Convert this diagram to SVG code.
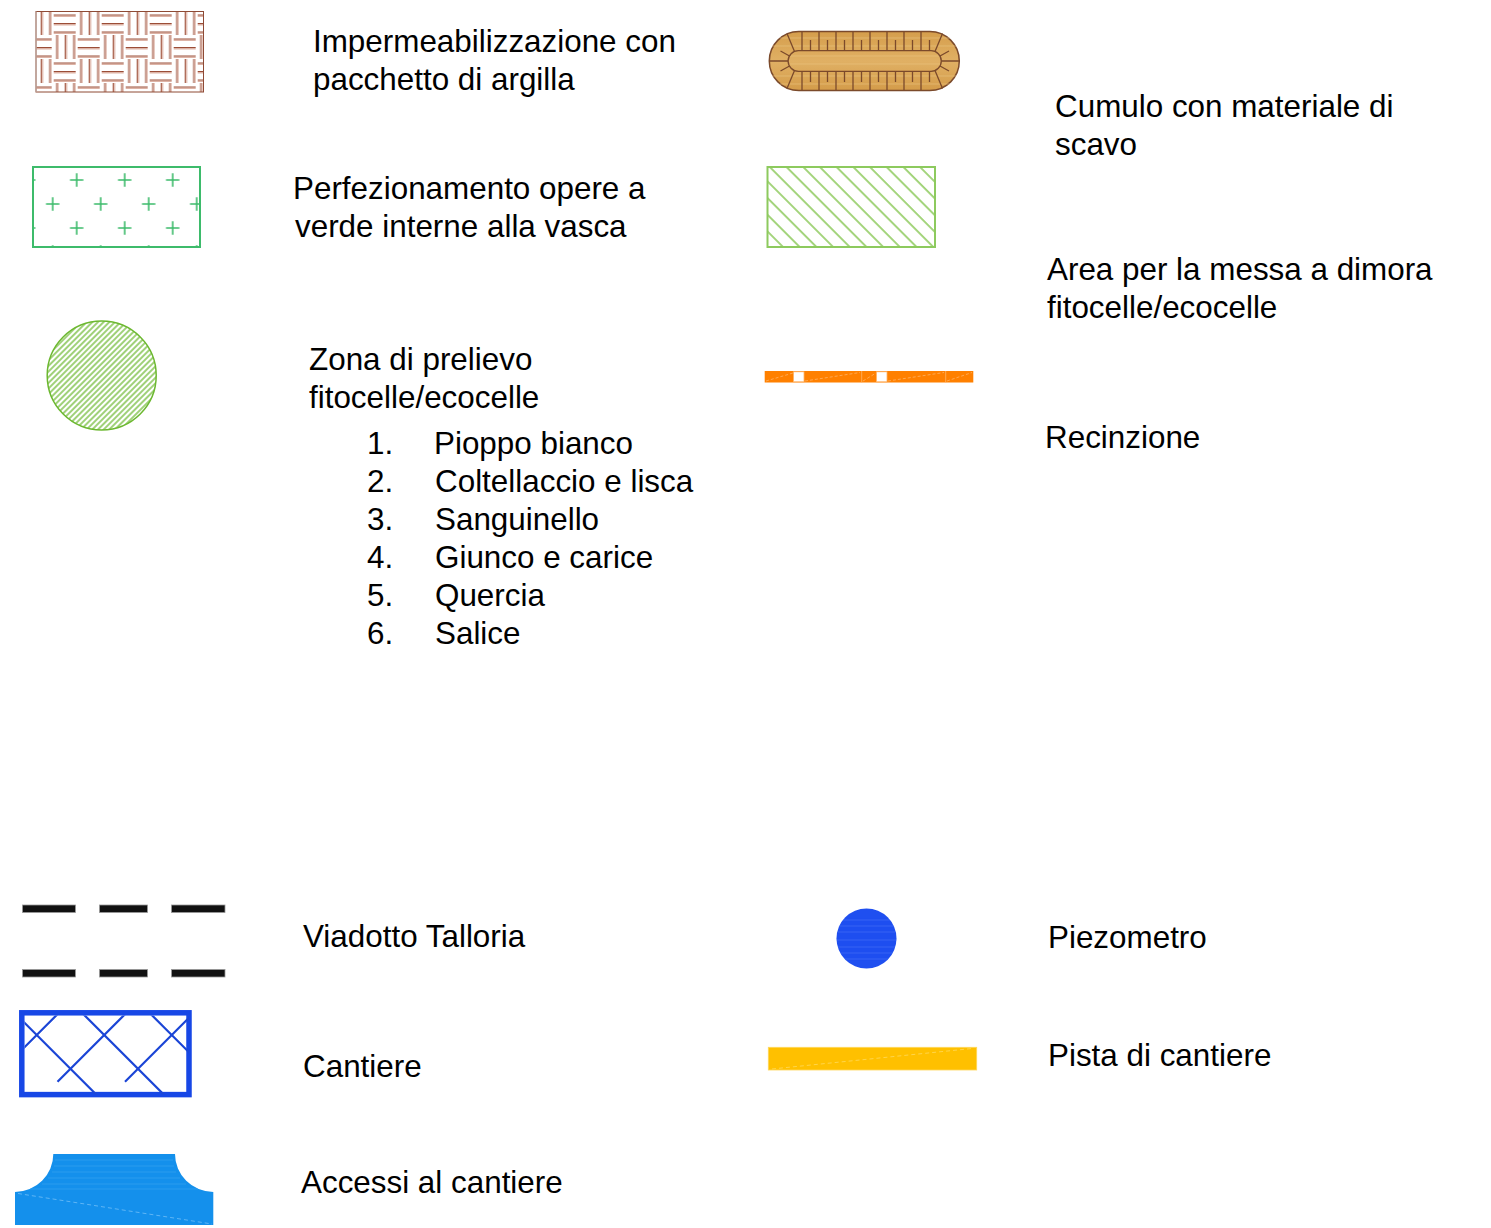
<svg xmlns="http://www.w3.org/2000/svg" width="1491" height="1228" viewBox="0 0 1491 1228">
<style>
text{font-family:"Liberation Sans",Arial,sans-serif;font-size:31.4px;fill:#000}
.cd{stroke:#9b4d37;stroke-width:1;fill:none}
.cl{stroke:#ddb3a6;stroke-width:1.4;fill:none}
.gx{stroke:#3dbb6b;stroke-width:1.6;fill:none}
</style>
<defs>
<pattern id="clay" patternUnits="userSpaceOnUse" x="4.7" y="11" width="48" height="48">
 <g class="cl">
  <path d="M1,5.3H23M1,13.8H23M1,22.3H23"/>
  <path d="M29.3,0V24M37.8,0V24M46.3,0V24"/>
  <path d="M5.3,24V48M13.8,24V48M22.3,24V48"/>
  <path d="M25,29.3H47M25,37.8H47M25,46.3H47"/>
 </g>
 <g class="cd">
  <path d="M1,4H23M1,12.5H23M1,21H23"/>
  <path d="M28,0V24M36.5,0V24M45,0V24"/>
  <path d="M4,24V48M12.5,24V48M21,24V48"/>
  <path d="M25,28H47M25,36.5H47M25,45H47"/>
 </g>
</pattern>
<pattern id="cross" patternUnits="userSpaceOnUse" x="4.7" y="156" width="48" height="48">
 <path class="gx" d="M17.3,24H30.7M24,17.3V30.7M-6.7,0H6.7M0,-6.7V6.7M41.3,0H54.7M48,-6.7V6.7M-6.7,48H6.7M0,41.3V54.7M41.3,48H54.7M48,41.3V54.7"/>
</pattern>
<pattern id="hatchC" patternUnits="userSpaceOnUse" width="4" height="4" patternTransform="rotate(45)">
 <line x1="1" y1="0" x2="1" y2="4" stroke="#6cb830" stroke-width="1.3"/>
</pattern>
<pattern id="hatchR" patternUnits="userSpaceOnUse" width="11.8" height="11.8" patternTransform="translate(767,167) rotate(-45)">
 <line x1="2" y1="0" x2="2" y2="11.8" stroke="#74be38" stroke-width="1.3"/>
</pattern>
<linearGradient id="wood" x1="0" y1="0" x2="0" y2="1">
 <stop offset="0" stop-color="#d59e4c"/>
 <stop offset="0.5" stop-color="#e0b064"/>
 <stop offset="1" stop-color="#d49c4a"/>
</linearGradient>
<clipPath id="cantClip"><rect x="24.5" y="1015.5" width="164.5" height="79"/></clipPath>
<clipPath id="piezClip"><circle cx="866.5" cy="938.5" r="30"/></clipPath>
</defs>

<g id="impermeabilizzazione">
 <rect x="36" y="11.5" width="167.5" height="80.5" fill="url(#clay)" stroke="#8e4a35" stroke-width="1"/>
 <line x1="36" y1="11.5" x2="36" y2="92" stroke="#c0a8a0" stroke-width="1.5"/>
 <text x="313" y="52">Impermeabilizzazione con</text>
 <text x="313" y="90">pacchetto di argilla</text>
</g>

<g id="perfezionamento">
 <rect x="33" y="167" width="167" height="80" fill="url(#cross)" stroke="#3dbb6b" stroke-width="2"/>
 <text x="293" y="199">Perfezionamento opere a</text>
 <text x="295" y="237">verde interne alla vasca</text>
</g>

<g id="zona-prelievo">
 <circle cx="101.7" cy="375.5" r="54.5" fill="url(#hatchC)" stroke="#6cb830" stroke-width="1.5"/>
 <text x="309" y="370">Zona di prelievo</text>
 <text x="309" y="408">fitocelle/ecocelle</text>
 <text x="367" y="454">1.</text><text x="434" y="454">Pioppo bianco</text>
 <text x="367" y="492">2.</text><text x="435" y="492">Coltellaccio e lisca</text>
 <text x="367" y="530">3.</text><text x="435" y="530">Sanguinello</text>
 <text x="367" y="568">4.</text><text x="435" y="568">Giunco e carice</text>
 <text x="367" y="606">5.</text><text x="435" y="606">Quercia</text>
 <text x="367" y="644">6.</text><text x="435" y="644">Salice</text>
</g>

<g id="cumulo">
 <path d="M798.8,31.5H929.8A29.5,29.5 0 0 1 929.8,90.5H798.8A29.5,29.5 0 0 1 798.8,31.5Z" fill="url(#wood)" stroke="#7b4a2b" stroke-width="1.5"/>
 <g stroke="#ecc685" stroke-width="0.8" opacity="0.7">
  <path d="M780,38H950M772,46H956M790,56H940M790,64H940M772,76H956M780,84H950"/>
 </g>
 <path d="M798.4,50.7H931A10.3,10.3 0 0 1 931,71.3H798.4A10.3,10.3 0 0 1 798.4,50.7Z" fill="none" stroke="#7b4a2b" stroke-width="1.3"/>
 <g stroke="#7b4a2b" stroke-width="1.3" fill="none">
  <path d="M802,31.5V50.7M819,31.5V50.7M836,31.5V50.7M853,31.5V50.7M870,31.5V50.7M887,31.5V50.7M904,31.5V50.7M921,31.5V50.7"/>
  <path d="M802,71.3V90.5M819,71.3V90.5M836,71.3V90.5M853,71.3V90.5M870,71.3V90.5M887,71.3V90.5M904,71.3V90.5M921,71.3V90.5"/>
  <path d="M810.5,40V50.7M827.5,40V50.7M844.5,40V50.7M861.5,40V50.7M878.5,40V50.7M895.5,40V50.7M912.5,40V50.7M929.5,40V50.7"/>
  <path d="M810.5,71.3V82M827.5,71.3V82M844.5,71.3V82M861.5,71.3V82M878.5,71.3V82M895.5,71.3V82M912.5,71.3V82M929.5,71.3V82"/>
  <path d="M769.3,61H788.1M794.5,51.5L787,33.5M794.5,70.5L787,88.5M789.5,56L780.5,51M789.5,66L780.5,71"/>
  <path d="M941.3,61H959.3M935,51.5L942.5,33.5M935,70.5L942.5,88.5M940,56L949,51M940,66L949,71"/>
 </g>
 <text x="1055" y="117">Cumulo con materiale di</text>
 <text x="1055" y="155">scavo</text>
</g>

<g id="area-dimora">
 <rect x="767.5" y="167" width="167.5" height="80" fill="url(#hatchR)" stroke="#8dca5e" stroke-width="2"/>
 <text x="1047" y="280">Area per la messa a dimora</text>
 <text x="1047" y="318">fitocelle/ecocelle</text>
</g>

<g id="recinzione">
 <rect x="764.7" y="371" width="208.6" height="11.5" fill="#ff8000"/>
 <g stroke="#ffb366" stroke-width="0.8" fill="none">
  <path d="M861.7,371V382.5M945.7,371V382.5"/>
  <path d="M766,381L793,373M805,381L860,372.5M863,381L876,373M888,381L944,372.5M947,381L972,372.5" stroke-dasharray="3 2"/>
 </g>
 <rect x="793.5" y="371.8" width="10.5" height="10" fill="#fff" stroke="#ffb366" stroke-width="0.8"/>
 <rect x="876.5" y="371.8" width="10.5" height="10" fill="#fff" stroke="#ffb366" stroke-width="0.8"/>
 <text x="1045" y="448">Recinzione</text>
</g>

<g id="viadotto">
 <g fill="#111" stroke="#9a9a9a" stroke-width="0.8">
  <rect x="22.5" y="905" width="53" height="7.5"/>
  <rect x="99.5" y="905" width="48" height="7.5"/>
  <rect x="171.5" y="905" width="53.5" height="7.5"/>
  <rect x="22.5" y="969.5" width="53" height="7.5"/>
  <rect x="99.5" y="969.5" width="48" height="7.5"/>
  <rect x="171.5" y="969.5" width="53.5" height="7.5"/>
 </g>
 <text x="303" y="947">Viadotto Talloria</text>
</g>

<g id="piezometro">
 <circle cx="866.5" cy="938.5" r="30" fill="#1f4ff0"/>
 <g clip-path="url(#piezClip)" stroke="#4a75f6" stroke-width="0.8" opacity="0.7">
  <path d="M840,920H893M836,926H897M838,932H895M836,940H897M838,947H895M840,953H893M845,959H888"/>
 </g>
 <text x="1048" y="948">Piezometro</text>
</g>

<g id="cantiere">
 <rect x="21.8" y="1012.8" width="167.2" height="81.8" fill="#fff" stroke="#1747e6" stroke-width="5.5"/>
 <g clip-path="url(#cantClip)" stroke="#1c46d6" stroke-width="2.2" fill="none">
  <path d="M-10,988.3L110,1108.3M57.5,988.3L177.5,1108.3M125,988.3L245,1108.3"/>
  <path d="M-10,1081.7L110,961.7M57.5,1081.7L177.5,961.7M125,1081.7L245,961.7M192.5,1081.7L312.5,961.7"/>
 </g>
 <text x="303" y="1077">Cantiere</text>
</g>

<g id="pista">
 <rect x="768.3" y="1047.3" width="208.4" height="22.7" fill="#ffc000" stroke="#ffd75a" stroke-width="0.8"/>
 <line x1="772" y1="1069" x2="972" y2="1048.5" stroke="#ffd54a" stroke-width="1" stroke-dasharray="4 3"/>
 <text x="1048" y="1066">Pista di cantiere</text>
</g>

<g id="accessi">
 <path d="M15,1192A38.3,38 0 0 0 53.3,1154H175A38.3,38 0 0 0 213.3,1192V1225H15Z" fill="#1490ec"/>
 <g stroke="#3aa5f2" stroke-width="0.9" opacity="0.7">
  <path d="M55,1160H173M54,1166H174M52,1172H176M48,1178H180M42,1184H186M30,1189H198"/>
 </g>
 <line x1="18" y1="1193.5" x2="212" y2="1224" stroke="#5fb6f6" stroke-width="1" stroke-dasharray="4 3"/>
 <text x="301" y="1193">Accessi al cantiere</text>
</g>
</svg>
